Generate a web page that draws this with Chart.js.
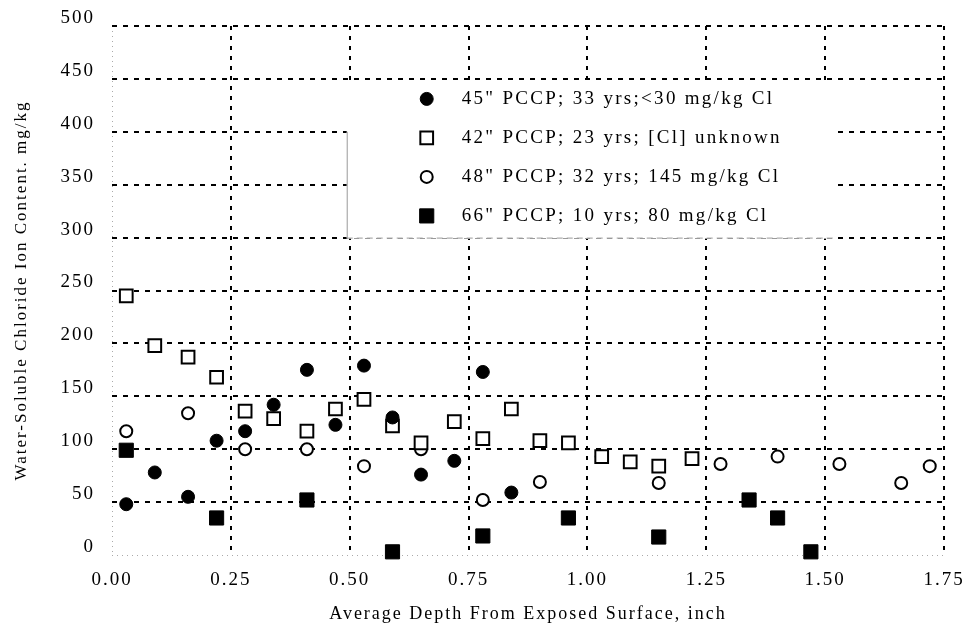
<!DOCTYPE html>
<html>
<head>
<meta charset="utf-8">
<script src="https://cdn.jsdelivr.net/npm/chart.js@4"></script>
<style>
  html, body { margin: 0; padding: 0; background: #fff; }
  #wrap { width: 967px; height: 628px; }
</style>
</head>
<body>
<div id="wrap"><canvas id="chlorideChart" width="967" height="628"></canvas></div>
<script>
// depth (inch) and chloride (mg/kg)

const depth45 = [0.03, 0.09, 0.16, 0.22, 0.28, 0.34, 0.41, 0.47, 0.53, 0.59, 0.65, 0.72, 0.78, 0.84];
const chloride45 = [48, 78, 55, 108, 117, 142, 175, 123, 179, 130, 76, 89, 173, 59];

const depth42 = [0.03, 0.09, 0.16, 0.22, 0.28, 0.34, 0.41, 0.47, 0.53, 0.59, 0.65, 0.72, 0.78, 0.84, 0.90, 0.96, 1.03, 1.09, 1.15, 1.22];
const chloride42 = [245, 198, 187, 168, 136, 129, 117, 138, 147, 122, 106, 126, 110, 138, 108, 106, 93, 88, 84, 91];

const depth48 = [0.03, 0.16, 0.28, 0.41, 0.53, 0.65, 0.78, 0.90, 1.03, 1.15, 1.28, 1.40, 1.53, 1.66, 1.72];
const chloride48 = [117, 134, 100, 100, 84, 100, 52, 69, 93, 68, 86, 93, 86, 68, 84];

const depth66 = [0.03, 0.22, 0.41, 0.59, 0.78, 0.96, 1.15, 1.34, 1.40, 1.47];
const chloride66 = [99, 35, 52, 3, 18, 35, 17, 52, 35, 3];

const seriesLabels = [
  '45" PCCP; 33 yrs;<30 mg/kg Cl',
  '42" PCCP; 23 yrs; [Cl] unknown',
  '48" PCCP; 32 yrs; 145 mg/kg Cl',
  '66" PCCP; 10 yrs; 80 mg/kg Cl'
];

const xTicks = [0, 0.25, 0.5, 0.75, 1, 1.25, 1.5, 1.75];
const yTicks = [0, 50, 100, 150, 200, 250, 300, 350, 400, 450, 500];

function toPoints(xs, ys) {
  return xs.map((x, i) => ({ x: x, y: ys[i] }));
}

const serif = "'Liberation Serif', 'DejaVu Serif', serif";

// scanned look: spaced out serif text
const spacingPlugin = {
  id: 'spacing',
  beforeUpdate(chart) { chart.ctx.letterSpacing = '2px'; },
  beforeDraw(chart) { chart.ctx.letterSpacing = '2px'; }
};

// white legend panel sitting over the grid
const legendPanel = {
  id: 'legendPanel',
  beforeDatasetsDraw(chart) {
    const ctx = chart.ctx;
    const xs = chart.scales.x;
    const ys = chart.scales.y;
    const left = xs.getPixelForValue(0.5) - 3;
    const right = xs.getPixelForValue(1.5) + 8;
    const top = ys.getPixelForValue(450) + 2;
    const bottom = ys.getPixelForValue(300) + 1;

    ctx.save();
    ctx.fillStyle = '#fff';
    ctx.fillRect(left, top, right - left, bottom - top);

    ctx.strokeStyle = '#999';
    ctx.lineWidth = 1;
    ctx.setLineDash([6, 4]);
    ctx.beginPath();
    ctx.moveTo(left, bottom - 0.5);
    ctx.lineTo(right, bottom - 0.5);
    ctx.stroke();
    ctx.setLineDash([]);
    ctx.beginPath();
    ctx.moveTo(left + 0.5, ys.getPixelForValue(400));
    ctx.lineTo(left + 0.5, bottom);
    ctx.stroke();

    ctx.font = '19px ' + serif;
    ctx.letterSpacing = '2.3px';
    ctx.textBaseline = 'middle';
    ctx.textAlign = 'left';
    chart.data.datasets.forEach((ds, i) => {
      const rowY = top + 18 + i * 39;
      const mx = left + 80;
      ctx.fillStyle = ds.backgroundColor;
      ctx.strokeStyle = ds.borderColor;
      ctx.lineWidth = ds.borderWidth;
      ctx.beginPath();
      if (ds.pointStyle === 'rect') {
        const h = ds.pointRadius * Math.SQRT1_2;
        ctx.rect(mx - h, rowY - h, 2 * h, 2 * h);
      } else {
        ctx.arc(mx, rowY, ds.pointRadius, 0, Math.PI * 2);
      }
      ctx.fill();
      ctx.stroke();
      ctx.fillStyle = '#000';
      ctx.fillText(ds.label, left + 115, rowY);
    });
    ctx.restore();
  }
};

const isEdge = (ctx) => ctx.tick && ctx.tick.value === 0;

const ctx = document.getElementById('chlorideChart').getContext('2d');
new Chart(ctx, {
  type: 'scatter',
  data: {
    datasets: [{
      label: seriesLabels[0],
      data: toPoints(depth45, chloride45),
      pointStyle: 'circle',
      pointRadius: 6.5,
      backgroundColor: '#000',
      borderColor: '#000',
      borderWidth: 1,
      clip: false
    }, {
      label: seriesLabels[1],
      data: toPoints(depth42, chloride42),
      pointStyle: 'rect',
      pointRadius: 9,
      backgroundColor: '#fff',
      borderColor: '#000',
      borderWidth: 2,
      clip: false
    }, {
      label: seriesLabels[2],
      data: toPoints(depth48, chloride48),
      pointStyle: 'circle',
      pointRadius: 6,
      backgroundColor: '#fff',
      borderColor: '#000',
      borderWidth: 2,
      clip: false
    }, {
      label: seriesLabels[3],
      data: toPoints(depth66, chloride66),
      pointStyle: 'rect',
      pointRadius: 10,
      backgroundColor: '#000',
      borderColor: '#000',
      borderWidth: 1,
      clip: false
    }]
  },
  options: {
    responsive: false,
    animation: false,
    events: [],
    layout: { padding: { top: 26, right: 23, left: 0, bottom: 0 } },
    plugins: {
      legend: { display: false },
      tooltip: { enabled: false }
    },
    scales: {
      x: {
        type: 'linear',
        min: 0,
        max: 1.75,
        afterBuildTicks: (axis) => { axis.ticks = xTicks.map(v => ({ value: v })); },
        afterFit: (axis) => {
          axis.height = 73;
          axis.paddingLeft = 0;
          axis.paddingRight = 0;
        },
        grid: {
          drawTicks: false,
          color: (c) => isEdge(c) ? '#aaa' : '#000',
          lineWidth: (c) => isEdge(c) ? 1 : 2
        },
        border: {
          display: false,
          dash: (c) => isEdge(c) ? [1, 4] : [4, 6]
        },
        ticks: {
          padding: 14,
          color: '#000',
          font: { family: serif, size: 19 },
          callback: (v) => Number(v).toFixed(2)
        },
        title: {
          display: true,
          text: 'Average Depth From Exposed Surface, inch',
          color: '#000',
          font: { family: serif, size: 18 },
          padding: { top: 0, bottom: 3 }
        }
      },
      y: {
        type: 'linear',
        min: 0,
        max: 500,
        afterBuildTicks: (axis) => { axis.ticks = yTicks.map(v => ({ value: v })); },
        afterFit: (axis) => {
          axis.width = 112;
          axis.paddingTop = 0;
          axis.paddingBottom = 0;
        },
        grid: {
          drawTicks: false,
          color: (c) => isEdge(c) ? '#aaa' : '#000',
          lineWidth: (c) => isEdge(c) ? 1 : 2
        },
        border: {
          display: false,
          dash: (c) => isEdge(c) ? [1, 4] : [5, 6]
        },
        ticks: {
          padding: 17,
          labelOffset: -8,
          color: '#000',
          font: { family: serif, size: 19 }
        },
        title: {
          display: true,
          text: 'Water-Soluble Chloride Ion Content. mg/kg',
          color: '#000',
          font: { family: serif, size: 17 },
          padding: { top: 11, bottom: 0 }
        }
      }
    }
  },
  plugins: [spacingPlugin, legendPanel]
});
</script>
</body>
</html>
